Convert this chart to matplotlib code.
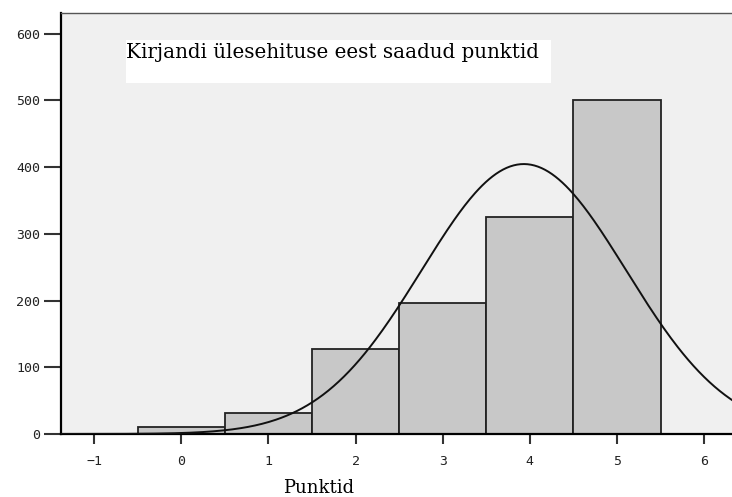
import matplotlib
matplotlib.use("Agg")
import matplotlib.pyplot as plt
import numpy as np

# histogram of essay structure points
points = [0, 1, 2, 3, 4, 5]
counts = [10, 31, 127, 196, 325, 501]
x_ticks = [-1, 0, 1, 2, 3, 4, 5, 6]
y_ticks = [0, 100, 200, 300, 400, 500, 600]
title = "Kirjandi ülesehituse eest saadud punktid"
x_label = "Punktid"

fig = plt.figure(figsize=(7.32, 4.97), dpi=100)
ax = fig.add_axes([61 / 732, 1 - 434 / 497, 1 - 61 / 732, (434 - 13) / 497])
ax.set_facecolor("#f0f0f0")

ax.bar(points, counts, width=1.0, color="#c8c8c8", edgecolor="#222222", linewidth=1.3, zorder=2)

# fitted normal curve from the histogram values
pts = np.array(points, dtype=float)
cnt = np.array(counts, dtype=float)
n = cnt.sum()
mu = (pts * cnt).sum() / n
sd = np.sqrt(((pts - mu) ** 2 * cnt).sum() / n)
xs = np.linspace(-1.5, 6.5, 400)
ys = n / (sd * np.sqrt(2 * np.pi)) * np.exp(-0.5 * ((xs - mu) / sd) ** 2)
ax.plot(xs, ys, color="#111111", linewidth=1.4, zorder=3)

ax.set_xlim(-1.38, 6.32)
ax.set_ylim(0, 631)
ax.set_xticks(x_ticks)
ax.set_yticks(y_ticks)
ax.tick_params(axis="both", colors="#333333", labelcolor="#222222")
ax.tick_params(axis="y", direction="out", length=12, width=1.5, labelsize=9.5, pad=3)
ax.tick_params(axis="x", direction="out", length=7, width=1.5, labelsize=9.5, pad=8)
for lab in ax.get_xticklabels() + ax.get_yticklabels():
    lab.set_family("DejaVu Sans Mono")

ax.spines["right"].set_visible(False)
ax.spines["left"].set_linewidth(1.6)
ax.spines["bottom"].set_linewidth(1.6)
ax.spines["top"].set_color("#555555")
ax.spines["top"].set_linewidth(1.0)

# title inside a white box
box = plt.Rectangle((126 / 732, 1 - 83 / 497), (551 - 126) / 732, (83 - 40) / 497,
                    transform=fig.transFigure, facecolor="white", edgecolor="none", zorder=5)
fig.patches.append(box)
fig.text(126 / 732, 1 - 52 / 497, title, family="DejaVu Serif", fontsize=14.3,
         ha="left", va="center", zorder=6)

fig.text(283 / 732, 1 - 488 / 497, x_label, family="DejaVu Serif", fontsize=13,
         ha="left", va="center")

fig.savefig("out.png", dpi=100)
